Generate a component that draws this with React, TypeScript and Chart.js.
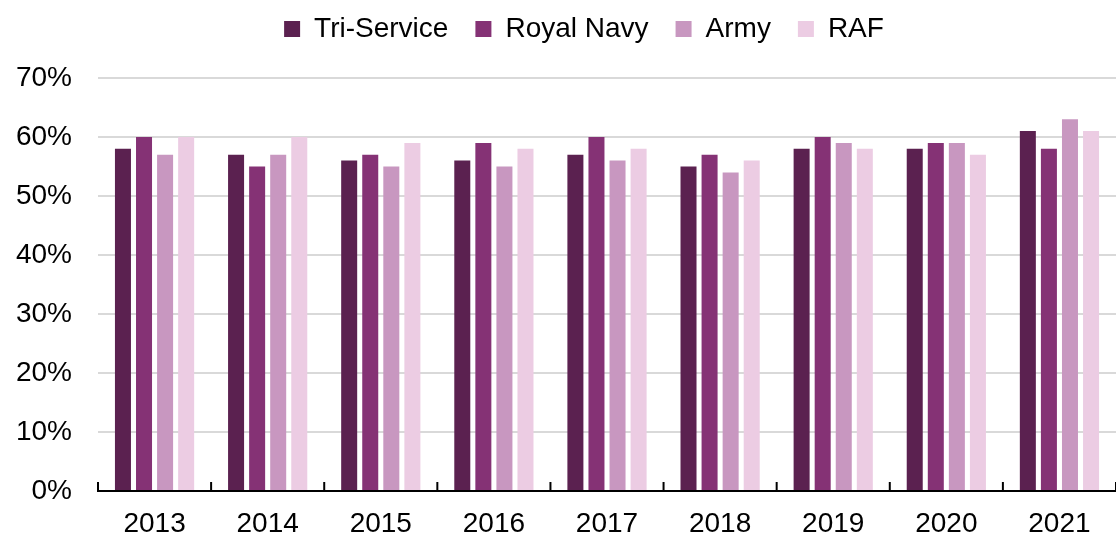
import React, { useEffect, useRef } from "react";
import { Chart, registerables } from "chart.js";

Chart.register(...registerables);

const years = ["2013", "2014", "2015", "2016", "2017", "2018", "2019", "2020", "2021"];
const triService = [58, 57, 56, 56, 57, 55, 58, 58, 61];
const royalNavy = [60, 55, 57, 59, 60, 57, 60, 59, 58];
const army = [57, 57, 55, 55, 56, 54, 59, 59, 63];
const raf = [60, 60, 59, 58, 58, 56, 58, 57, 61];
const seriesNames = ["Tri-Service", "Royal Navy", "Army", "RAF"];
const seriesColors = ["#5B2150", "#853275", "#C897C0", "#ECCCE3"];

const upTicks = {
  id: "upTicks",
  afterDatasetsDraw(chart: any) {
    const x = chart.scales.x;
    const y = chart.scales.y;
    const ctx = chart.ctx;
    const n = x.ticks.length;
    const base = y.getPixelForValue(0);
    ctx.save();
    ctx.strokeStyle = "#000";
    ctx.lineWidth = 2;
    for (let i = 0; i <= n; i++) {
      const px = x.left + (i * (x.right - x.left)) / n;
      ctx.beginPath();
      ctx.moveTo(px, base);
      ctx.lineTo(px, base - 9);
      ctx.stroke();
    }
    ctx.restore();
  },
};

const legendPlace = {
  id: "legendPlace",
  beforeInit(chart: any) {
    const orig = chart.legend.fit;
    chart.legend.fit = function () {
      orig.bind(chart.legend)();
      this.height = 74;
    };
  },
  afterLayout(chart: any) {
    const lg = chart.legend;
    lg.top -= 16;
    lg.bottom -= 16;
    lg.left += 26;
    lg.right += 26;
  },
};

export default function App() {
  const ref = useRef<HTMLCanvasElement>(null);
  useEffect(() => {
    const data = [triService, royalNavy, army, raf];
    const chart = new Chart(ref.current!, {
      type: "bar",
      data: {
        labels: years,
        datasets: data.map((d, i) => ({
          label: seriesNames[i],
          data: d,
          backgroundColor: seriesColors[i],
          borderWidth: 0,
          categoryPercentage: 0.745,
          barPercentage: 0.76,
        })),
      },
      options: {
        animation: false,
        responsive: true,
        maintainAspectRatio: false,
        layout: { padding: { left: 0, right: 0, top: 4, bottom: 0 } },
        plugins: {
          legend: {
            position: "top",
            labels: {
              boxWidth: 16,
              boxHeight: 16,
              color: "#000",
              padding: 27,
              font: { family: "Liberation Sans, Arial", size: 28 },
            },
          },
          tooltip: { enabled: false },
        },
        scales: {
          x: {
            grid: { display: false, drawTicks: false },
            border: { display: true, color: "#000", width: 2 },
            afterFit: (s: any) => {
              s.height = 48;
            },
            ticks: {
              color: "#000",
              padding: 16,
              font: { family: "Liberation Sans, Arial", size: 28 },
            },
          },
          y: {
            min: 0,
            max: 70,
            afterFit: (s: any) => {
              s.width = 98;
            },
            grid: { color: "#d9d9d9", lineWidth: 2, drawTicks: false },
            border: { display: false },
            ticks: {
              stepSize: 10,
              color: "#000",
              padding: 26,
              callback: (v: any) => v + "%",
              font: { family: "Liberation Sans, Arial", size: 28 },
            },
          },
        },
      },
      plugins: [upTicks, legendPlace],
    });
    return () => chart.destroy();
  }, []);
  return (
    <div style={{ position: "absolute", left: 0, top: 0, width: 1116, height: 539 }}>
      <canvas ref={ref} />
    </div>
  );
}
